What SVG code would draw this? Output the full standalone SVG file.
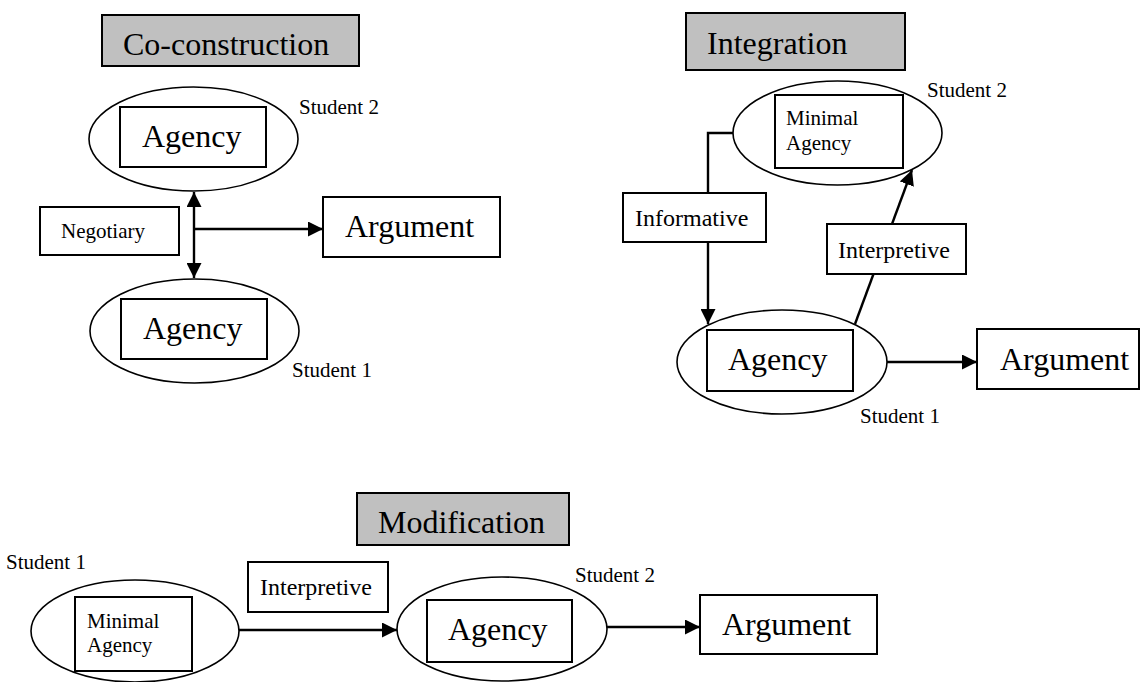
<svg xmlns="http://www.w3.org/2000/svg" width="1142" height="682" viewBox="0 0 1142 682" font-family="'Liberation Serif', 'Times New Roman', Times, 'DejaVu Serif', serif">
<style>
text{font-family:'Liberation Serif','Times New Roman',Times,'DejaVu Serif',serif;fill:#000}
.big{font-size:32px}
.mid{font-size:24px}
.sm{font-size:21px}
.title{fill:#c0c0c0;stroke:#000;stroke-width:2}
.box{fill:#fff;stroke:#000;stroke-width:2}
.ell{fill:#fff;stroke:#000;stroke-width:1.6}
.ln{fill:none;stroke:#000;stroke-width:2.4}
</style>
<defs>
<marker id="ah" markerUnits="userSpaceOnUse" markerWidth="16" markerHeight="15" refX="15" refY="7.5" orient="auto-start-reverse">
<path d="M0,0 L15,7.5 L0,15 z" fill="#000"/>
</marker>
</defs>

<!-- Co-construction -->
<g id="cc-title"><rect class="title" x="102" y="15" width="257" height="51"/><text class="big" x="123" y="55">Co-construction</text></g>
<g id="cc-student2"><ellipse class="ell" cx="193.5" cy="139" rx="104.5" ry="52"/><rect class="box" x="120" y="107" width="146" height="60"/><text class="big" x="142" y="147">Agency</text><text class="sm" x="299" y="114">Student 2</text></g>
<g id="cc-student1"><ellipse class="ell" cx="194.5" cy="331" rx="104.5" ry="52"/><rect class="box" x="121" y="299" width="146" height="60"/><text class="big" x="143" y="339">Agency</text><text class="sm" x="292" y="377">Student 1</text></g>
<g id="cc-negotiary"><rect class="box" x="40" y="207" width="139" height="48"/><text class="sm" x="61" y="238">Negotiary</text></g>
<g id="cc-argument"><rect class="box" x="323" y="197" width="177" height="60"/><text class="big" x="345" y="237">Argument</text></g>

<!-- Integration -->
<g id="in-title"><rect class="title" x="686" y="13" width="219" height="57"/><text class="big" x="707" y="54">Integration</text></g>
<g id="in-student2"><ellipse class="ell" cx="837.5" cy="133" rx="104.5" ry="52"/><rect class="box" x="775" y="95" width="128" height="73"/><text class="sm" x="786" y="125">Minimal</text><text class="sm" x="786" y="150">Agency</text><text class="sm" x="927" y="97">Student 2</text></g>
<g id="in-student1"><ellipse class="ell" cx="782" cy="362" rx="105" ry="52"/><rect class="box" x="707" y="330" width="146" height="61"/><text class="big" x="728" y="370">Agency</text><text class="sm" x="860" y="423">Student 1</text></g>
<g id="in-argument"><rect class="box" x="977" y="329" width="162" height="60"/><text class="big" x="1000" y="370">Argument</text></g>

<!-- Modification -->
<g id="mo-title"><rect class="title" x="357" y="493" width="212" height="52"/><text class="big" x="378" y="533">Modification</text></g>
<g id="mo-student1"><ellipse class="ell" cx="135" cy="631" rx="104" ry="51"/><rect class="box" x="75" y="597" width="117" height="74"/><text class="sm" x="87" y="628">Minimal</text><text class="sm" x="87" y="652">Agency</text><text class="sm" x="6" y="569">Student 1</text></g>
<g id="mo-student2"><ellipse class="ell" cx="502" cy="629" rx="105" ry="52"/><rect class="box" x="427" y="600" width="145" height="62"/><text class="big" x="448" y="640">Agency</text><text class="sm" x="575" y="582">Student 2</text></g>
<g id="mo-argument"><rect class="box" x="700" y="595" width="177" height="59"/><text class="big" x="722" y="635">Argument</text></g>

<!-- Connectors -->
<g id="connectors">
<line class="ln" x1="194" y1="192" x2="194" y2="278" marker-start="url(#ah)" marker-end="url(#ah)"/>
<line class="ln" x1="194" y1="229" x2="323" y2="229" marker-end="url(#ah)"/>
<polyline class="ln" points="733,133 708,133 708,193"/>
<line class="ln" x1="708" y1="242" x2="708" y2="324" marker-end="url(#ah)"/>
<line class="ln" x1="855" y1="324" x2="873.5" y2="274"/>
<line class="ln" x1="892" y1="224" x2="912" y2="170" marker-end="url(#ah)"/>
<line class="ln" x1="887" y1="362" x2="977" y2="362" marker-end="url(#ah)"/>
<line class="ln" x1="239" y1="630" x2="397" y2="630" marker-end="url(#ah)"/>
<line class="ln" x1="607" y1="627" x2="700" y2="627" marker-end="url(#ah)"/>
</g>

<!-- label boxes on top of connectors -->
<g id="in-informative"><rect class="box" x="623" y="193" width="143" height="49"/><text class="mid" x="635" y="226">Informative</text></g>
<g id="in-interpretive"><rect class="box" x="827" y="224" width="139" height="50"/><text class="mid" x="838" y="258">Interpretive</text></g>
<g id="mo-interpretive"><rect class="box" x="248" y="562" width="140" height="50"/><text class="mid" x="260" y="595">Interpretive</text></g>
</svg>
